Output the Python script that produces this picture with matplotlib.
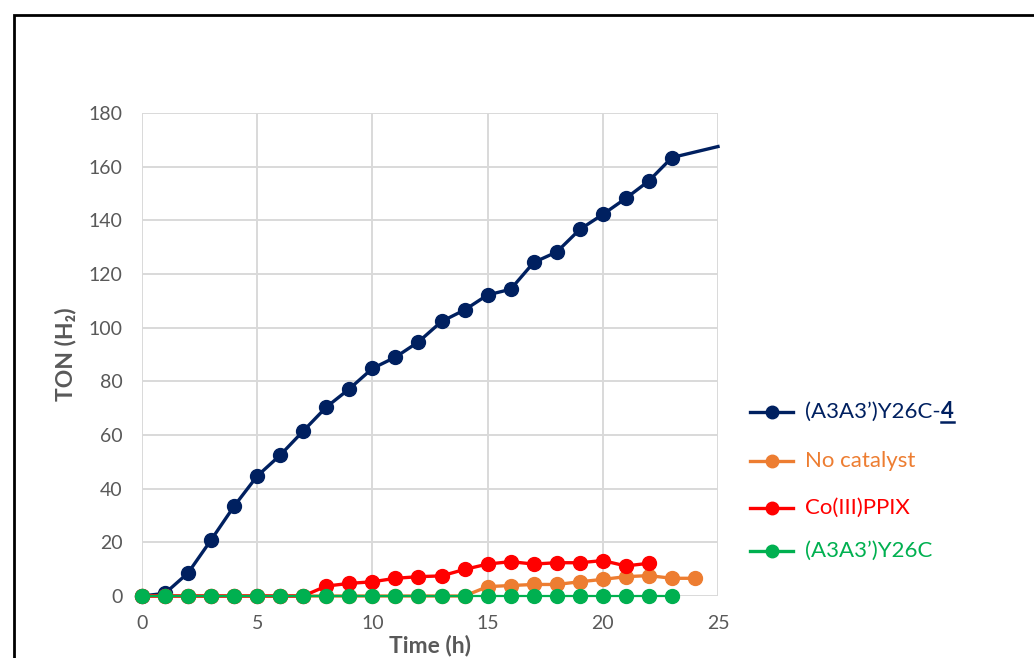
import matplotlib
matplotlib.use("Agg")
import matplotlib.pyplot as plt
from matplotlib.lines import Line2D
from matplotlib.patches import Rectangle

plt.rcParams['font.family'] = ['Lato', 'DejaVu Sans']

# ---- data ----
blue_t = list(range(0, 24)) + [25]
blue_v = [0, 1, 8.6, 20.9, 33.5, 44.7, 52.5, 61.5, 70.4, 77.2, 84.8, 89.0,
          94.7, 102.3, 106.6, 112.2, 114.3, 124.3, 128.2, 136.6, 142.2, 148.2,
          154.7, 163.4, 167.5]
orange_t = list(range(0, 25))
orange_v = [0] * 15 + [3.5, 3.9, 4.3, 4.3, 5.3, 6.2, 7.2, 7.6, 6.6, 6.6]
red_t = list(range(0, 23))
red_v = [0] * 8 + [3.7, 4.7, 5.3, 6.6, 7.2, 7.5, 9.9, 11.9, 12.8, 11.9, 12.4,
                   12.4, 13.2, 11.2, 12.2]
green_t = list(range(0, 24))
green_v = [0] * 24

labels = ["(A3A3\u2019)Y26C-", "No catalyst", "Co(III)PPIX", "(A3A3\u2019)Y26C"]
colors = ["#002060", "#ED7D31", "#FF0000", "#00B050"]
xticks = [0, 5, 10, 15, 20, 25]
yticks = list(range(0, 181, 20))

W, H = 1034, 658
fig = plt.figure(figsize=(W / 100, H / 100), dpi=100)
ax = fig.add_axes([142 / W, 1 - 596 / H, (718 - 142) / W, (596 - 113) / H])

gray = "#595959"
ax.plot(blue_t, blue_v, color=colors[0], lw=2.4, marker='o', ms=10,
        markevery=list(range(24)), zorder=3, clip_on=False)
ax.plot(orange_t, orange_v, color=colors[1], lw=2.4, marker='o', ms=10,
        zorder=4, clip_on=False)
ax.plot(red_t, red_v, color=colors[2], lw=2.4, marker='o', ms=10,
        zorder=5, clip_on=False)
ax.plot(green_t, green_v, color=colors[3], lw=1.6, marker='o', ms=10,
        zorder=6, clip_on=False)

ax.set_xlim(0, 25)
ax.set_ylim(0, 180)
ax.set_xticks(xticks)
ax.set_yticks(yticks)
ax.grid(True, color="#D9D9D9", lw=1.4, zorder=0)
ax.set_axisbelow(True)
for s in ax.spines.values():
    s.set_visible(False)
ax.tick_params(length=0, labelsize=14, labelcolor=gray)
ax.tick_params(axis='y', pad=14)
ax.tick_params(axis='x', pad=14)

fig.text(66 / W, 1 - 354 / H, "TON (H\u2082)", rotation=90, ha='center',
         va='center', fontsize=16.5, fontweight='bold', color=gray)
fig.text(430 / W, 1 - 645 / H, "Time (h)", ha='center', va='center',
         fontsize=16.5, fontweight='bold', color=gray)

# legend (manual)
leg_y = [412, 461, 508, 551]
renderer = fig.canvas.get_renderer()
for lab, col, y in zip(labels, colors, leg_y):
    yf = 1 - y / H
    fig.add_artist(Line2D([750 / W, 793 / W], [yf, yf], color=col, lw=2.4,
                          transform=fig.transFigure))
    fig.add_artist(Line2D([771.5 / W], [yf], color=col, marker='o', ms=9,
                          transform=fig.transFigure))
    t = fig.text(805 / W, yf, lab, ha='left', va='center', fontsize=16,
                 color=col)
    if lab == labels[0]:
        bb = t.get_window_extent(renderer=renderer)
        x4 = bb.x1 / W
        t4 = fig.text(x4, yf, "4", ha='left', va='center', fontsize=16,
                      color=col, fontweight='bold')
        bb4 = t4.get_window_extent(renderer=renderer)
        uy = (bb4.y0 + 1) / H
        fig.add_artist(Line2D([bb4.x0 / W, bb4.x1 / W], [uy, uy], color=col,
                              lw=1.8, transform=fig.transFigure))

# border
fig.add_artist(Rectangle((14 / W, -0.1), 1.2, 1.1 - 15 / H,
                         transform=fig.transFigure, fill=False,
                         edgecolor='black', lw=2))

fig.savefig("out.png", dpi=100)
